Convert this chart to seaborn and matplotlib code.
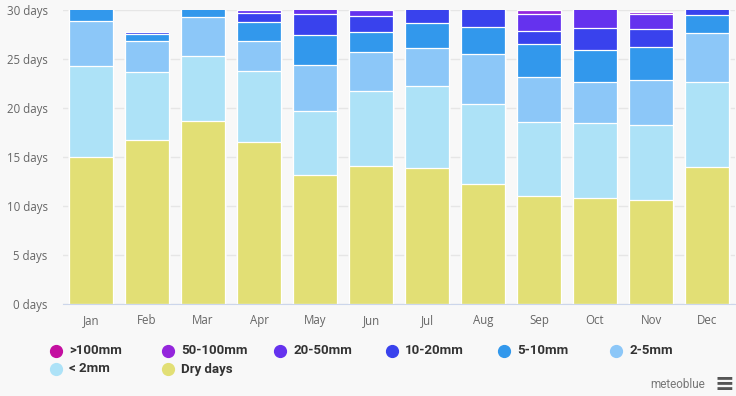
import matplotlib
matplotlib.use("Agg")
import matplotlib.pyplot as plt
import seaborn as sns
import numpy as np
import pandas as pd
from matplotlib.lines import Line2D


# Данные (дней в месяце по классам осадков)
MONTHS = ['Jan', 'Feb', 'Mar', 'Apr', 'May', 'Jun', 'Jul', 'Aug', 'Sep', 'Oct', 'Nov', 'Dec']
DRY = [15.0, 16.7, 18.7, 16.5, 13.2, 14.1, 13.9, 12.2, 11.0, 10.8, 10.6, 13.95]
LT2 = [9.3, 7.0, 6.6, 7.25, 6.45, 7.6, 8.3, 8.25, 7.6, 7.7, 7.7, 8.75]
MM2_5 = [4.6, 3.15, 4.0, 3.05, 4.75, 4.0, 3.9, 5.1, 4.6, 4.2, 4.6, 5.0]
MM5_10 = [1.7, 0.75, 1.5, 1.95, 3.0, 2.1, 2.6, 2.75, 3.35, 3.2, 3.3, 1.8]
MM10_20 = [0.4, 0.2, 0.2, 0.9, 2.2, 1.6, 1.6, 2.0, 1.35, 2.3, 1.9, 1.0]
MM20_50 = [0.0, 0.0, 0.0, 0.4, 0.8, 0.6, 0.5, 0.6, 1.7, 2.0, 1.5, 0.3]
MM50_100 = [0.0, 0.0, 0.0, 0.0, 0.1, 0.0, 0.0, 0.0, 0.4, 0.5, 0.15, 0.0]
GT100 = [0.0, 0.0, 0.0, 0.0, 0.0, 0.0, 0.0, 0.0, 0.0, 0.0, 0.05, 0.0]

LABELS = ['>100mm', '50-100mm', '20-50mm', '10-20mm', '5-10mm', '2-5mm', '< 2mm', 'Dry days']
COLORS = ['#c40fa0', '#9426dc', '#6532ee', '#3942ed', '#3298ec', '#8cc7f8', '#ade2f7', '#e2df75']

BG = '#f8f8f8'
W, H = 736, 396


def main():
    # снизу вверх
    layers = [DRY, LT2, MM2_5, MM5_10, MM10_20, MM20_50, MM50_100, GT100]
    layer_colors = COLORS[::-1]

    df = pd.DataFrame({'month': MONTHS})
    cum = np.cumsum(np.array(layers), axis=0)

    fig = plt.figure(figsize=(W / 100, H / 100), dpi=100, facecolor=BG)
    ax = fig.add_axes([63 / W, 92 / H, 672 / W, 294 / H])
    ax.set_facecolor(BG)

    # Рисуем накопленные суммы сверху вниз, каждая следующая перекрывает предыдущую
    for i in range(len(layers) - 1, -1, -1):
        df['value'] = cum[i]
        sns.barplot(data=df, x='month', y='value', color=layer_colors[i],
                    saturation=1, width=0.79, edgecolor='white', linewidth=0.9,
                    ax=ax, zorder=2)

    ax.set_ylim(0, 30)
    ax.set_xlim(-0.5, 11.5)
    ax.set_yticks(range(0, 31, 5))
    ax.set_yticklabels([f'{v} days' for v in range(0, 31, 5)])
    ax.set_xlabel('')
    ax.set_ylabel('')

    ax.grid(axis='y', color='#e6e6e6', linewidth=1, zorder=0)
    ax.grid(axis='x', visible=False)
    ax.set_axisbelow(True)
    for side in ['top', 'right', 'left']:
        ax.spines[side].set_visible(False)
    ax.spines['bottom'].set_color('#ccd6eb')
    ax.spines['bottom'].set_zorder(3)

    ax.tick_params(axis='y', length=0, pad=11, labelsize=8.3, labelcolor='#666666')
    ax.tick_params(axis='x', length=0, pad=7, labelsize=8.3, labelcolor='#666666')
    for lbl in ax.get_xticklabels() + ax.get_yticklabels():
        lbl.set_fontfamily('Open Sans')

    # Легенда: 6 колонок одинаковой ширины, заполнение по строкам
    for k, (lab, col) in enumerate(zip(LABELS, COLORS)):
        row, c = divmod(k, 6)
        x0 = 56 + 112 * c
        y0 = 351 + 18 * row
        fig.add_artist(Line2D([x0 / W], [1 - y0 / H], marker='o', markersize=8.5,
                              color=col, linestyle='', transform=fig.transFigure))
        fig.text((x0 + 13) / W, 1 - y0 / H, lab, ha='left', va='center',
                 fontsize=9.5, weight='bold', color='#333333', family='Roboto')

    fig.text(705 / W, 1 - 385 / H, 'meteoblue', ha='right', va='center',
             fontsize=8.5, color='#777777', family='Roboto')
    fig.text(724 / W, 1 - 384 / H, '\u2261', ha='center', va='center',
             fontsize=17, color='#555555', family='DejaVu Sans', weight='bold')

    fig.savefig('out.png', dpi=100, facecolor=BG)


if __name__ == '__main__':
    main()
